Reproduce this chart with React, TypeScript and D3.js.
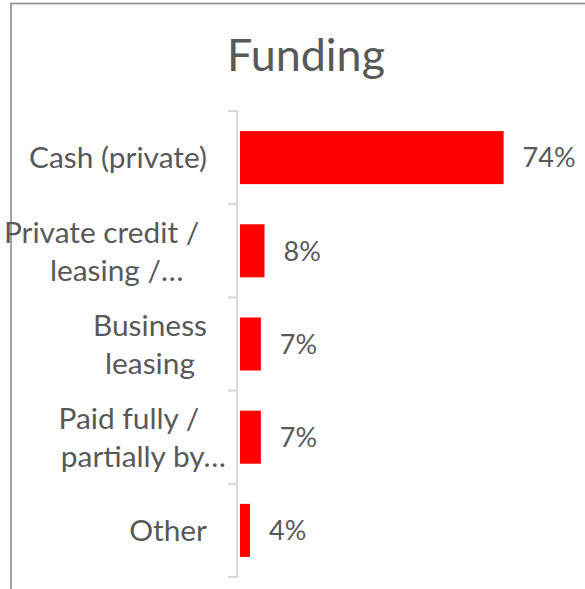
import React, { useEffect, useRef } from "react";
import * as d3 from "d3";

const title = "Funding";
const categories = [
  "Cash (private)",
  "Private credit / leasing / …",
  "Business leasing",
  "Paid fully / partially by…",
  "Other",
];
const labelLines = [
  ["Cash (private)"],
  ["Private credit / ", "leasing /…"],
  ["Business", "leasing"],
  ["Paid fully / ", "partially by…"],
  ["Other"],
];
const values = [74, 8, 7, 7, 4];
const valueLabels = ["74%", "8%", "7%", "7%", "4%"];

const W = 585;
const H = 589;
const FONT = "Lato, 'Open Sans', sans-serif";
const TEXT = "#595959";

function fitSize(svg: any, str: string, target: number) {
  const t = svg
    .append("text")
    .attr("font-family", FONT)
    .attr("font-size", 100)
    .style("white-space", "pre")
    .text(str);
  const w = (t.node() as SVGTextElement).getComputedTextLength();
  t.remove();
  return (100 * target) / w;
}

export default function App() {
  const ref = useRef<SVGSVGElement>(null);
  useEffect(() => {
    const svg = d3.select(ref.current);
    svg.selectAll("*").remove();

    const titleSize = fitSize(svg, title, 158);
    const labelSize = fitSize(svg, "Cash (private)", 178);
    const valueSize = fitSize(svg, "74%", 53);

    svg
      .append("rect")
      .attr("x", 11)
      .attr("y", 3.5)
      .attr("width", 591)
      .attr("height", 640)
      .attr("fill", "#ffffff")
      .attr("stroke", "#8c8c8c")
      .attr("stroke-width", 1.6);

    svg
      .append("text")
      .attr("x", 306)
      .attr("y", 71)
      .attr("text-anchor", "middle")
      .attr("font-family", FONT)
      .attr("font-size", titleSize)
      .attr("fill", TEXT)
      .text(title);

    const y = d3
      .scaleBand()
      .domain(categories)
      .range([111, 577])
      .paddingInner(0.431)
      .paddingOuter(0.2155);
    const x = d3.scaleLinear().domain([1.24, 74]).range([240, 503.6]);
    const step = y.step();
    const [r0, r1] = y.range();

    // axis line
    const ax = 237;
    svg
      .append("line")
      .attr("x1", ax)
      .attr("x2", ax)
      .attr("y1", r0)
      .attr("y2", r1)
      .attr("stroke", "#d9d9d9")
      .attr("stroke-width", 2);
    svg
      .selectAll("line.tick")
      .data(d3.range(categories.length + 1))
      .join("line")
      .attr("class", "tick")
      .attr("x1", ax - 9)
      .attr("x2", ax + 1)
      .attr("y1", (i) => r0 + i * step)
      .attr("y2", (i) => r0 + i * step)
      .attr("stroke", "#d9d9d9")
      .attr("stroke-width", 2);

    // bars
    svg
      .selectAll("rect.bar")
      .data(values)
      .join("rect")
      .attr("class", "bar")
      .attr("x", x(x.domain()[0]))
      .attr("y", (_, i) => y(categories[i])!)
      .attr("width", (d) => x(d) - x(x.domain()[0]))
      .attr("height", y.bandwidth())
      .attr("fill", "#ff0000");

    // value labels
    svg
      .selectAll("text.val")
      .data(values)
      .join("text")
      .attr("class", "val")
      .attr("x", (d) => x(d) + 19)
      .attr("y", (_, i) => y(categories[i])! + y.bandwidth() / 2 + valueSize * 0.36)
      .attr("font-family", FONT)
      .attr("font-size", valueSize)
      .attr("fill", TEXT)
      .text((_, i) => valueLabels[i]);

    // category labels
    const R = 207;
    const lineGap = 38;
    labelLines.forEach((lines, i) => {
      const cy = y(categories[i])! + y.bandwidth() / 2;
      const g = svg.append("g");
      if (lines.length === 1) {
        g.append("text")
          .attr("x", R)
          .attr("y", cy + labelSize * 0.36)
          .attr("text-anchor", "end")
          .attr("font-family", FONT)
          .attr("font-size", labelSize)
          .attr("fill", TEXT)
          .text(lines[0]);
        return;
      }
      const cores = lines.map((l) => {
        const core = l.replace(/…$/, "");
        const t = g
          .append("text")
          .attr("font-family", FONT)
          .attr("font-size", labelSize)
          .style("white-space", "pre")
          .text(core);
        const w = (t.node() as SVGTextElement).getComputedTextLength();
        t.remove();
        return w;
      });
      const bw = Math.max(...cores);
      const center = R - bw / 2;
      lines.forEach((l, j) => {
        const capCenter = cy + (j - (lines.length - 1) / 2) * lineGap;
        g.append("text")
          .attr("x", center - cores[j] / 2)
          .attr("y", capCenter + labelSize * 0.36)
          .attr("font-family", FONT)
          .attr("font-size", labelSize)
          .attr("fill", TEXT)
          .style("white-space", "pre")
          .text(l);
      });
    });
  }, []);
  return (
    <svg
      ref={ref}
      width={W}
      height={H}
      style={{ position: "absolute", left: 0, top: 0, display: "block" }}
    />
  );
}
